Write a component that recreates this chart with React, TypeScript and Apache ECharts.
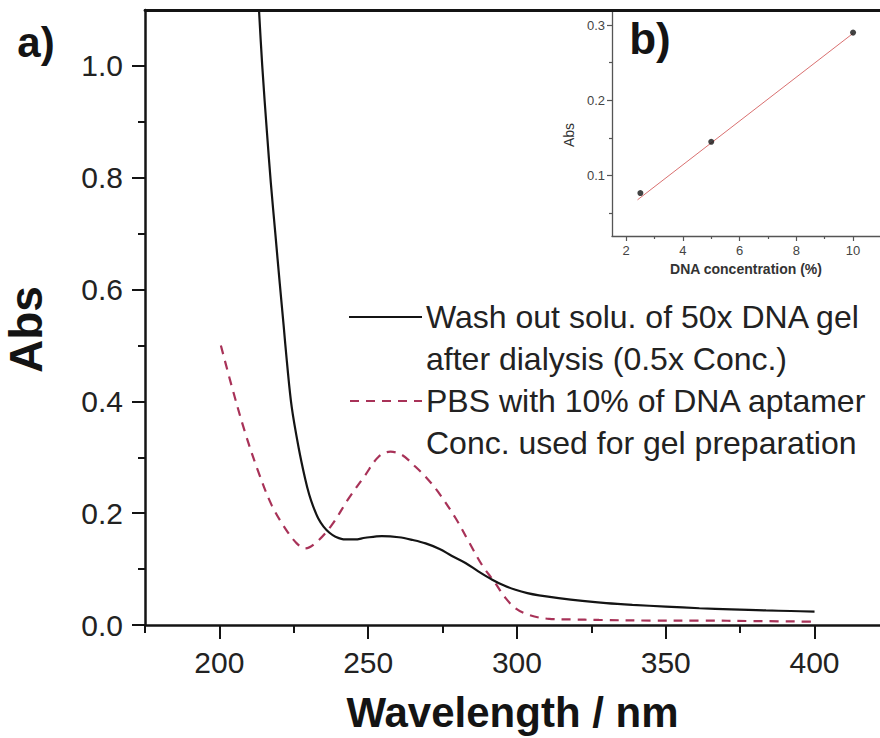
import React, { useEffect, useRef } from "react";
import * as echarts from "echarts";

// Panel a) UV-vis spectra
const washWavelength = [
  213.1, 214.4, 216.0, 217.3, 218.8, 220.3, 221.6, 222.7, 224.3, 226.6, 228.8, 230.2, 231.6,
  233.2, 235.0, 237.0, 239.0, 242.3, 245.5, 249.0, 254.6, 260.3, 265.0, 269.3, 274.0, 278.0,
  282.7, 287.0, 291.7, 295.5, 299.5, 303.5, 307.4, 314.0, 322.0, 330.0, 338.8, 350.0, 361.3,
  372.0, 383.7, 392.0, 400.0,
];
const washAbs = [
  1.12, 1.0, 0.88, 0.79, 0.7, 0.61, 0.535, 0.47, 0.39, 0.318, 0.262, 0.233, 0.211,
  0.191, 0.176, 0.165, 0.158, 0.153, 0.153, 0.156, 0.159, 0.157, 0.152, 0.146, 0.136, 0.124,
  0.111, 0.096, 0.081, 0.071, 0.063, 0.057, 0.053, 0.048, 0.043, 0.039, 0.036, 0.033, 0.03,
  0.028, 0.026, 0.025, 0.024,
];

const pbsWavelength = [
  200.5, 204.1, 208.6, 213.1, 217.6, 222.1, 226.0, 228.8, 232.8, 237.8, 243.4, 249.0, 253.5,
  257.5, 261.4, 265.9, 269.5, 273.5, 279.4, 283.8, 288.3, 292.3, 296.2, 299.5, 304.0, 310.8,
  318.0, 327.6, 345.0, 361.3, 380.0, 400.0,
];
const pbsAbs = [
  0.5, 0.428, 0.345, 0.274, 0.214, 0.173, 0.146, 0.137, 0.149, 0.179, 0.226, 0.268, 0.301,
  0.31, 0.304, 0.283, 0.264, 0.238, 0.191, 0.149, 0.107, 0.078, 0.048, 0.03, 0.018, 0.011,
  0.01, 0.009, 0.008, 0.008, 0.007, 0.006,
];

const wavelengthTicks = [200, 250, 300, 350, 400];
const wavelengthMinorTicks = [175, 225, 275, 325, 375];
const absTicks = [0, 0.2, 0.4, 0.6, 0.8, 1.0];
const absMinorTicks = [0.1, 0.3, 0.5, 0.7, 0.9];

// Panel b) calibration inset
const dnaConc = [2.5, 5, 10];
const dnaAbs = [0.077, 0.145, 0.29];
const fitConc = [2.4, 10];
const fitAbs = [0.068, 0.289];
const concTicks = [2, 4, 6, 8, 10];
const concMinorTicks = [3, 5, 7, 9];
const insetAbsTicks = [0.1, 0.2, 0.3];
const insetAbsMinorTicks = [0.05, 0.15, 0.25];

const legendLines = [
  "Wash out solu. of 50x DNA gel",
  "after dialysis (0.5x Conc.)",
  "PBS with 10% of DNA aptamer",
  "Conc. used for gel preparation",
];

const FONT = '"Liberation Sans", Arial, sans-serif';
const INK = "#141414";
const DASH_COLOR = "#a83258";

const zip = (xs: number[], ys: number[]) => xs.map((x, i) => [x, ys[i]]);

export default function App() {
  const ref = useRef<HTMLDivElement>(null);

  useEffect(() => {
    document.body.style.margin = "0";
    if (!ref.current) return;
    const chart = echarts.init(ref.current, null, { renderer: "svg" });

    const mainX = { min: 175, max: 422 };
    const mainY = { min: 0, max: 1.1 };
    const insetX = { min: 1.5, max: 10.95 };
    const insetY = { min: 0.02, max: 0.32 };

    const tickOnly = (values: number[], len: number, color: string, width: number) => ({
      show: true,
      customValues: values,
      length: len,
      inside: false,
      lineStyle: { color, width },
    });

    chart.setOption({
      animation: false,
      backgroundColor: "#ffffff",
      grid: [
        { left: 145, top: 10, right: 0, bottom: 113, outerBoundsMode: "none", containLabel: false },
        { left: 612, top: 10, right: 0, bottom: 502, outerBoundsMode: "none", containLabel: false },
      ],
      xAxis: [
        {
          gridIndex: 0,
          type: "value",
          ...mainX,
          position: "bottom",
          axisLine: { show: true, lineStyle: { color: INK, width: 2.5 } },
          axisTick: tickOnly(wavelengthTicks, 14, INK, 2),
          axisLabel: {
            customValues: wavelengthTicks,
            fontSize: 30,
            fontFamily: FONT,
            color: "#222",
            margin: 22,
          },
          splitLine: { show: false },
          name: "Wavelength / nm",
          nameLocation: "middle",
          nameGap: 66,
          nameTextStyle: { fontSize: 42, fontWeight: "bold", fontFamily: FONT, color: INK },
        },
        {
          gridIndex: 0,
          type: "value",
          ...mainX,
          position: "bottom",
          axisLine: { show: false },
          axisTick: tickOnly(wavelengthMinorTicks, 8, INK, 2),
          axisLabel: { show: false },
          splitLine: { show: false },
        },
        {
          gridIndex: 0,
          type: "value",
          ...mainX,
          position: "top",
          axisLine: { show: true, lineStyle: { color: INK, width: 2.8 } },
          axisTick: { show: false },
          axisLabel: { show: false },
          splitLine: { show: false },
        },
        {
          gridIndex: 1,
          type: "value",
          ...insetX,
          position: "bottom",
          axisLine: { show: true, lineStyle: { color: "#555", width: 1.3 } },
          axisTick: tickOnly(concTicks, 5, "#555", 1.2),
          axisLabel: {
            customValues: concTicks,
            fontSize: 13,
            fontFamily: FONT,
            color: "#444",
            margin: 8,
          },
          splitLine: { show: false },
          name: "DNA concentration (%)",
          nameLocation: "middle",
          nameGap: 26,
          nameTextStyle: { fontSize: 14, fontWeight: "bold", fontFamily: FONT, color: "#333" },
        },
        {
          gridIndex: 1,
          type: "value",
          ...insetX,
          position: "bottom",
          axisLine: { show: false },
          axisTick: tickOnly(concMinorTicks, 3, "#555", 1.2),
          axisLabel: { show: false },
          splitLine: { show: false },
        },
      ],
      yAxis: [
        {
          gridIndex: 0,
          type: "value",
          ...mainY,
          position: "left",
          axisLine: { show: true, lineStyle: { color: INK, width: 2.5 } },
          axisTick: tickOnly(absTicks, 13, INK, 2),
          axisLabel: {
            customValues: absTicks,
            formatter: (v: number) => v.toFixed(1),
            fontSize: 30,
            fontFamily: FONT,
            color: "#222",
            margin: 22,
          },
          splitLine: { show: false },
          name: "Abs",
          nameLocation: "middle",
          nameGap: 96,
          nameTextStyle: {
            fontSize: 46,
            fontWeight: "bold",
            fontFamily: FONT,
            color: INK,
            padding: [0, 24, 0, 0],
          },
        },
        {
          gridIndex: 0,
          type: "value",
          ...mainY,
          position: "left",
          axisLine: { show: false },
          axisTick: tickOnly(absMinorTicks, 7, INK, 2),
          axisLabel: { show: false },
          splitLine: { show: false },
        },
        {
          gridIndex: 1,
          type: "value",
          ...insetY,
          position: "left",
          axisLine: { show: true, lineStyle: { color: "#555", width: 1.3 } },
          axisTick: tickOnly(insetAbsTicks, 5, "#555", 1.2),
          axisLabel: {
            customValues: insetAbsTicks,
            formatter: (v: number) => v.toFixed(1),
            fontSize: 13,
            fontFamily: FONT,
            color: "#444",
            margin: 7,
          },
          splitLine: { show: false },
          name: "Abs",
          nameLocation: "middle",
          nameGap: 36,
          nameTextStyle: {
            fontSize: 14,
            fontFamily: FONT,
            color: "#333",
            padding: [0, 24, 0, 0],
          },
        },
        {
          gridIndex: 1,
          type: "value",
          ...insetY,
          position: "left",
          axisLine: { show: false },
          axisTick: tickOnly(insetAbsMinorTicks, 3, "#555", 1.2),
          axisLabel: { show: false },
          splitLine: { show: false },
        },
      ],
      series: [
        {
          name: legendLines[0] + " " + legendLines[1],
          type: "line",
          xAxisIndex: 0,
          yAxisIndex: 0,
          data: zip(washWavelength, washAbs),
          showSymbol: false,
          smooth: 0.35,
          lineStyle: { color: INK, width: 2.2 },
          z: 3,
        },
        {
          name: legendLines[2] + " " + legendLines[3],
          type: "line",
          xAxisIndex: 0,
          yAxisIndex: 0,
          data: zip(pbsWavelength, pbsAbs),
          showSymbol: false,
          smooth: 0.35,
          lineStyle: { color: DASH_COLOR, width: 2.2, type: [9, 7] },
          z: 2,
        },
        {
          name: "fit",
          type: "line",
          xAxisIndex: 3,
          yAxisIndex: 2,
          data: zip(fitConc, fitAbs),
          showSymbol: false,
          lineStyle: { color: "#d97070", width: 1 },
        },
        {
          name: "DNA",
          type: "scatter",
          xAxisIndex: 3,
          yAxisIndex: 2,
          data: zip(dnaConc, dnaAbs),
          symbolSize: 6,
          itemStyle: { color: INK },
          z: 4,
        },
      ],
      graphic: [
        {
          type: "text",
          x: 36,
          y: 42,
          style: {
            text: "a)",
            font: `bold 42px ${FONT}`,
            fill: INK,
            textAlign: "center",
            textVerticalAlign: "middle",
          },
        },
        {
          type: "text",
          x: 650,
          y: 38,
          style: {
            text: "b)",
            font: `bold 44px ${FONT}`,
            fill: INK,
            textAlign: "center",
            textVerticalAlign: "middle",
          },
        },
        {
          type: "line",
          shape: { x1: 349, y1: 317, x2: 422, y2: 317 },
          style: { stroke: INK, lineWidth: 2.2 },
        },
        {
          type: "line",
          shape: { x1: 350, y1: 401, x2: 422, y2: 401 },
          style: { stroke: DASH_COLOR, lineWidth: 2.2, lineDash: [9, 7] },
        },
        ...legendLines.map((t, i) => ({
          type: "text",
          x: 426,
          y: 317 + i * 42,
          style: {
            text: t,
            font: `32px ${FONT}`,
            fill: "#222",
            textAlign: "left",
            textVerticalAlign: "middle",
          },
        })),
      ],
    });

    return () => chart.dispose();
  }, []);

  return <div ref={ref} style={{ width: 880, height: 738 }} />;
}
